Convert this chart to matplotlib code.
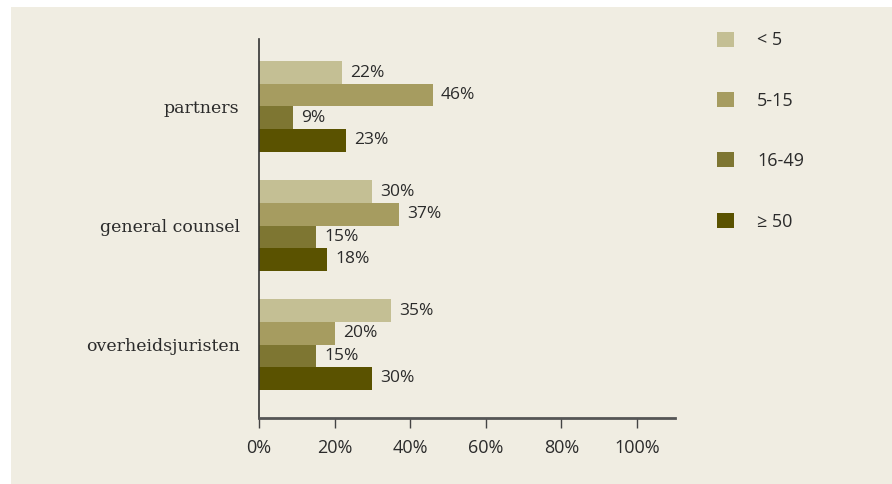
import matplotlib
matplotlib.use("Agg")
import matplotlib.pyplot as plt
from matplotlib.patches import Rectangle
import numpy as np

BG = "#f0ede2"
DARK = "#2b2b2b"

categories = ["partners", "general counsel", "overheidsjuristen"]
groups = ["< 5", "5-15", "16-49", "\u2265 50"]
colors = ["#c4bf94", "#a69c60", "#7e7632", "#5a5200"]
# percentages per group (rows) for each category (columns)
values = [
    [22, 30, 35],
    [46, 37, 20],
    [9, 15, 15],
    [23, 18, 30],
]
xticks = [0, 20, 40, 60, 80, 100]
xticklabels = ["0%", "20%", "40%", "60%", "80%", "100%"]

W, H = 892, 484
fig = plt.figure(figsize=(W / 100, H / 100), dpi=100, facecolor="white")
fig.patches.append(Rectangle((11 / W, 0), 1 - 11 / W, 1 - 7 / H, transform=fig.transFigure,
                             facecolor=BG, edgecolor="none", zorder=-10))

ax = fig.add_axes([259 / W, (H - 418) / H, (674.6 - 259) / W, (418 - 39) / H])
ax.set_facecolor("none")

bar_h = 0.19
y = np.arange(len(categories))
handles = []
for i, (vals, c, lab) in enumerate(zip(values, colors, groups)):
    off = (i - 1.5) * bar_h
    bars = ax.barh(y + off, vals, height=bar_h, color=c, label=lab, linewidth=0)
    handles.append(bars)
    for yi, v in zip(y, vals):
        ax.text(v + 2.2, yi + off, f"{v}%", va="center", ha="left",
                fontsize=12.5, color=DARK, family="Open Sans")

ax.set_xlim(0, 110)
ax.set_ylim(2.617, -0.567)
ax.set_yticks(y)
ax.set_yticklabels(categories, fontsize=12.5, family="DejaVu Serif", color=DARK)
ax.tick_params(axis="y", length=0, pad=14)
ax.set_xticks(xticks)
ax.set_xticklabels(xticklabels, fontsize=13, family="Open Sans", color=DARK)
ax.tick_params(axis="x", direction="out", length=7, width=1, color="#444444", pad=8)

ax.spines["top"].set_visible(False)
ax.spines["right"].set_visible(False)
ax.spines["left"].set_color("#333333")
ax.spines["left"].set_linewidth(1.2)
ax.spines["bottom"].set_color("#555555")
ax.spines["bottom"].set_linewidth(2)

fig.legend(handles=handles, labels=groups, loc="upper left",
           bbox_to_anchor=(701 / W, 1 - 15 / H), frameon=False,
           prop={"family": "Open Sans", "size": 13},
           handlelength=0.9, handleheight=0.9, handletextpad=1.3,
           labelspacing=2.35, labelcolor=DARK)

fig.savefig("out.png", dpi=100, facecolor="white")
